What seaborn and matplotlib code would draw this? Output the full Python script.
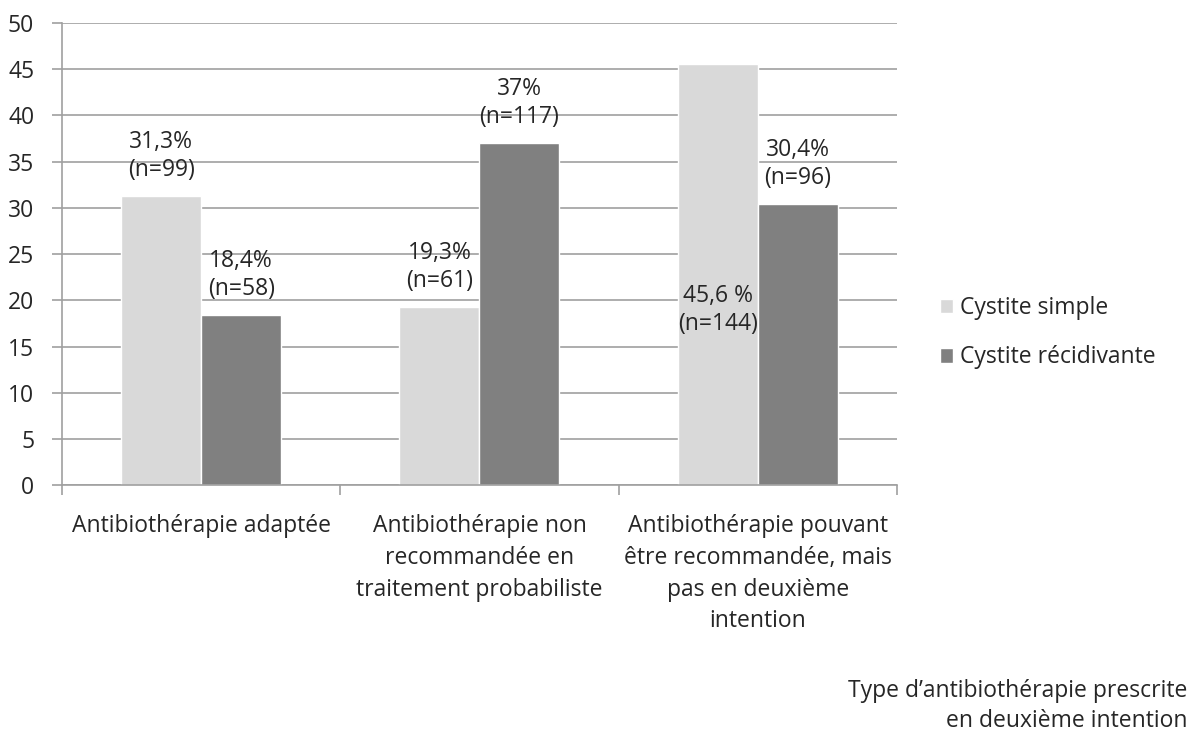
import matplotlib
matplotlib.use("Agg")
import matplotlib.pyplot as plt
import pandas as pd
import seaborn as sns

CATEGORIES = [
    "Antibiothérapie adaptée",
    "Antibiothérapie non\nrecommandée en\ntraitement probabiliste",
    "Antibiothérapie pouvant\nêtre recommandée, mais\npas en deuxième\nintention",
]
SERIES = ["Cystite simple", "Cystite récidivante"]
SIMPLE = [31.3, 19.3, 45.6]
RECIDIVANTE = [18.4, 37.0, 30.4]
LABELS_SIMPLE = ["31,3%\n(n=99)", "19,3%\n(n=61)", "45,6 %\n(n=144)"]
LABELS_RECIDIVANTE = ["18,4%\n(n=58)", "37%\n(n=117)", "30,4%\n(n=96)"]
Y_TICKS = list(range(0, 55, 5))

FS = 16.5

sns.set_theme(style="white")
plt.rcParams["font.family"] = ["Open Sans", "DejaVu Sans"]
plt.rcParams["font.size"] = FS

table = pd.DataFrame({
    "categorie": CATEGORIES * 2,
    "serie": [SERIES[0]] * 3 + [SERIES[1]] * 3,
    "valeur": SIMPLE + RECIDIVANTE,
})

fig = plt.figure(figsize=(11.97, 7.33), dpi=100)
ax = fig.add_axes([0.0518, 0.338, 0.6975, 0.6306])
sns.barplot(data=table, x="categorie", y="valeur", hue="serie", hue_order=SERIES,
            palette=["#d9d9d9", "#808080"], width=0.575, saturation=1, ax=ax, zorder=2)

ax.set_ylim(0, 50)
ax.set_xlim(-0.5, len(CATEGORIES) - 0.5)
ax.set_yticks(Y_TICKS)
ax.yaxis.grid(True, color="#a0a0a0", linewidth=1.2, zorder=0)
ax.set_axisbelow(True)
ax.set_xlabel("")
ax.set_ylabel("")
for side in ["top", "right"]:
    ax.spines[side].set_visible(False)
for side in ["left", "bottom"]:
    ax.spines[side].set_color("#a0a0a0")
    ax.spines[side].set_linewidth(1.2)

ax.set_xticks(range(len(CATEGORIES)))
ax.set_xticklabels(CATEGORIES, fontsize=FS, linespacing=1.42, va="top")
ax.tick_params(axis="x", which="major", length=0, pad=21)
ax.set_xticks([i - 0.5 for i in range(len(CATEGORIES) + 1)], minor=True)
ax.tick_params(axis="x", which="minor", length=7, width=1.2, color="#a0a0a0", direction="out")
ax.tick_params(axis="y", length=7, width=1.2, color="#a0a0a0", direction="out", labelsize=FS, pad=13)
ax.tick_params(axis="both", bottom=True, left=True, which="both")
ax.tick_params(axis="x", which="major", bottom=False)

for container, labels in zip(ax.containers, [LABELS_SIMPLE, LABELS_RECIDIVANTE]):
    for bar, text in zip(container, labels):
        cx = bar.get_x() + bar.get_width() / 2
        h = bar.get_height()
        offset = 10
        va = "bottom"
        if h > 45:
            offset = -177
            va = "center"
        ax.annotate(text, xy=(cx, h), xytext=(0, offset), textcoords="offset points",
                    ha="center", va=va, fontsize=FS, linespacing=1.22, zorder=3)

handles, labs = ax.get_legend_handles_labels()
ax.legend(handles, labs, loc="center left", bbox_to_anchor=(0.785, 0.546),
          bbox_transform=fig.transFigure, frameon=False, fontsize=FS,
          handlelength=0.6, handleheight=0.6, handletextpad=0.3, labelspacing=1.1,
          borderpad=0, borderaxespad=0)

fig.text(0.992, 0.073, "Type d\u2019antibiothérapie prescrite\nen deuxième intention",
         ha="right", va="top", fontsize=FS, linespacing=1.33)

fig.savefig("out.png", dpi=100)
